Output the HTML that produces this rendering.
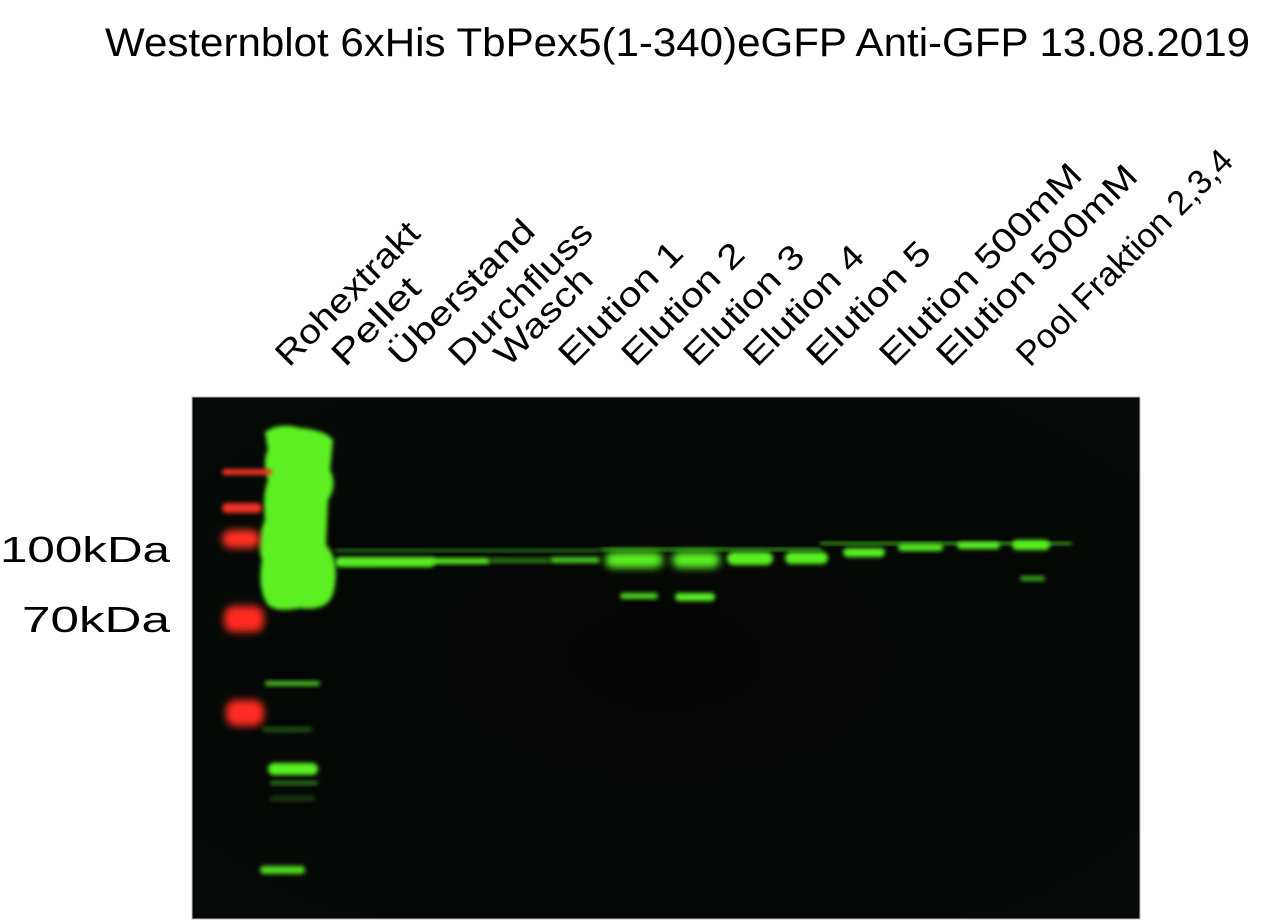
<!DOCTYPE html>
<html><head><meta charset="utf-8"><style>
html,body{margin:0;padding:0;background:#fff;width:1266px;height:923px;overflow:hidden}
svg{display:block}
text{font-family:"Liberation Sans",sans-serif;fill:#000}
</style></head><body>
<svg id="fig" width="1266" height="923" viewBox="0 0 1266 923">
<defs>
<filter id="b2" x="-50%" y="-50%" width="200%" height="200%"><feGaussianBlur stdDeviation="2"/></filter>
<filter id="b4" x="-50%" y="-50%" width="200%" height="200%"><feGaussianBlur stdDeviation="4"/></filter>
<radialGradient id="gel" cx="50%" cy="50%" r="70%"><stop offset="0" stop-color="#030604"/><stop offset="1" stop-color="#050a06"/></radialGradient>
</defs>
<text x="105" y="56" font-size="40" textLength="1145" lengthAdjust="spacingAndGlyphs">Westernblot 6xHis TbPex5(1-340)eGFP Anti-GFP 13.08.2019</text>
<g id="labels"></g>
<rect x="192" y="397" width="948" height="522" fill="url(#gel)"/>
<rect x="192" y="397" width="948" height="522" fill="none" stroke="#bbb" stroke-width="1"/>
<g id="bands"></g>
<text x="0" y="562" font-size="36" textLength="170" lengthAdjust="spacingAndGlyphs">100kDa</text>
<text x="22" y="632" font-size="36" textLength="148" lengthAdjust="spacingAndGlyphs">70kDa</text>
</svg>
<script>
const laneNames=["Rohextrakt","Pellet","Überstand","Durchfluss","Wasch","Elution 1","Elution 2","Elution 3","Elution 4","Elution 5","Elution 500mM","Elution 500mM","Pool Fraktion 2,3,4"];
const labelX=[289,345,402,462,508,572,635,697,757,820,893,950,1030];
const labelLen=[188,110,191,188,123,160,158,155,155,160,270,268,290];
// bands: x, y, width, height, color, opacity
const bandX=[335,600,820,335,430,490,550,605,672,727,785,843,898,957,1012,620,675,1020,222,222,222,224,226,265,268,270,260,262,270];
const bandY=[549,548,542,557,558,558,557,552,552,552,552,548,544,542,540,593,593,576,469,503,530,606,700,681,763,781,866,727,796];
const bandW=[265,222,252,100,60,60,50,58,48,46,43,42,45,43,38,38,40,25,50,40,38,40,38,55,50,48,45,50,45];
const bandH=[3,3,3,10,6,5,6,16,16,13,12,9,7,7,10,6,8,5,6,10,18,26,26,5,12,4,8,5,5];
const bandC=["#3cb020","#3cc020","#3cc020","#59f020","#59f020","#40d020","#50e020","#59f020","#59f020","#59f020","#59f020","#59f020","#59f020","#59f020","#59f020","#59f020","#59f020","#40d020","#f03020","#f03020","#ff3020","#ff2a20","#ff2a20","#50d020","#59f020","#40b020","#59f020","#308020","#307020"];
const bandO=[0.7,0.9,0.9,1,1,0.6,0.9,1,1,1,1,1,1,1,1,0.9,1,0.8,1,1,1,1,1,0.9,1,0.7,0.9,0.6,0.5];
const ns="http://www.w3.org/2000/svg";
const lg=document.getElementById('labels');
laneNames.forEach((n,i)=>{
  const t=document.createElementNS(ns,'text');
  
  
  t.setAttribute('x',labelX[i]);t.setAttribute('y',368);
  t.setAttribute('font-size','34');
  t.setAttribute('textLength',labelLen[i]);t.setAttribute('lengthAdjust','spacingAndGlyphs');
  t.setAttribute('transform','rotate(-45 '+labelX[i]+' 368)');
  t.textContent=n;lg.appendChild(t);
});
const bg=document.getElementById('bands');
const blob=document.createElementNS(ns,'path');


blob.setAttribute('d','M265 432 Q280 422 300 428 Q325 430 333 440 L330 470 Q338 485 328 500 L326 545 Q340 560 334 590 Q330 612 300 608 Q270 614 265 600 Q258 585 262 560 Q256 540 265 520 Q262 495 268 480 Q262 460 268 450 Z');
blob.setAttribute('fill','#5cf022');blob.setAttribute('filter','url(#b2)');
bg.appendChild(blob);
bandX.forEach((x,i)=>{
  const r=document.createElementNS(ns,'rect');
  
  
  r.setAttribute('x',x);r.setAttribute('y',bandY[i]);
  r.setAttribute('width',bandW[i]);r.setAttribute('height',bandH[i]);
  r.setAttribute('rx',Math.min(bandH[i]/2,10));
  r.setAttribute('fill',bandC[i]);r.setAttribute('opacity',bandO[i]);
  r.setAttribute('filter',bandH[i]>14?'url(#b4)':'url(#b2)');
  bg.appendChild(r);
});
</script>
</body></html>
